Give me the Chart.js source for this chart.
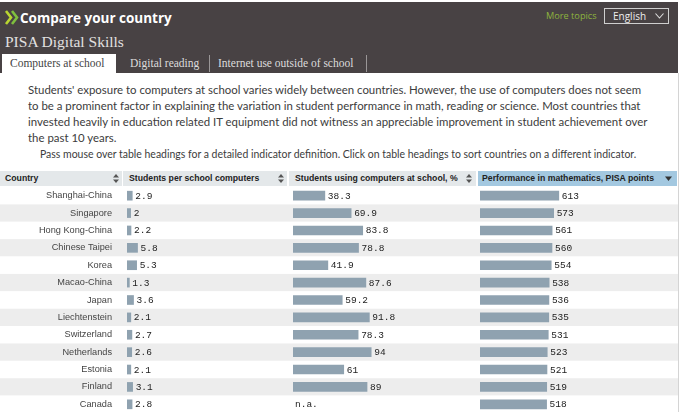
<!DOCTYPE html>
<html><head><meta charset="utf-8">
<script src="https://cdn.jsdelivr.net/npm/chart.js@4/dist/chart.umd.min.js"></script>
<style>
html,body{margin:0;padding:0;background:#fff;}
body{width:680px;height:412px;overflow:hidden;position:relative;font-family:"Liberation Sans",Arial,sans-serif;}
.abs{position:absolute;white-space:nowrap;}
#top{left:0;top:2px;width:678px;height:71px;background:#484244;}
#title{left:20px;top:9px;font:bold 13.5px "Open Sans",sans-serif;color:#fff;}
#sub{left:5px;top:33px;font:15.5px "Liberation Serif",serif;color:#e2e0e0;}
#more{left:546px;top:9px;font:9.2px "Open Sans",sans-serif;color:#8db43e;}
#lang{left:604px;top:8px;width:63px;height:14px;border:1px solid #cfcfcf;}
#lang span{position:absolute;left:8px;top:0px;font:10px "Open Sans",sans-serif;color:#eee;}
.tab{top:57px;font:11.5px "Liberation Serif",serif;color:#dcdcdc;}
#tab1{left:2px;top:54px;width:114px;height:19px;background:#fff;}
#tab1 span{position:absolute;left:8px;top:3px;color:#444;font:11.5px "Liberation Serif",serif;}
.sep{width:1px;height:17px;top:55px;background:#9a9697;}
.para{left:28px;font-family:Lato,sans-serif;color:#3c3c3c;}
.hcell{top:171px;height:15px;background:#e4e8ea;}
.hcell span{position:absolute;top:1px;font:bold 8.7px "Liberation Sans",Arial,sans-serif;color:#222;line-height:13px;}
canvas{position:absolute;top:187px;}
#rborder{left:678px;top:73px;width:1px;height:339px;background:#d4d4d4;}
</style></head>
<body>
<div id="top" class="abs"></div>
<svg class="abs" style="left:4px;top:9px" width="16" height="17" viewBox="0 0 16 17">
<polyline points="2,2 7,8.5 2,15" fill="none" stroke="#b9d531" stroke-width="2.6"/>
<polyline points="8,2 13,8.5 8,15" fill="none" stroke="#7fbf3e" stroke-width="2.6"/>
</svg>
<div id="title" class="abs">Compare your country</div>
<div id="sub" class="abs">PISA Digital Skills</div>
<div id="more" class="abs">More topics</div>
<div id="lang" class="abs"><span>English</span>
<svg style="position:absolute;left:50px;top:4px" width="9" height="6"><polyline points="0.5,0.5 4.5,5 8.5,0.5" fill="none" stroke="#ddd" stroke-width="1.1"/></svg></div>
<div id="tab1" class="abs"><span>Computers at school</span></div>
<div class="abs tab" style="left:130px;">Digital reading</div>
<div class="abs sep" style="left:209px;"></div>
<div class="abs tab" style="left:218px;">Internet use outside of school</div>
<div class="abs sep" style="left:366px;"></div>
<div id="paras"></div>
<div id="hdr"></div>
<div id="rborder" class="abs"></div>
<canvas id="c1" width="287" height="226" style="left:0px"></canvas>
<canvas id="c2" width="189" height="226" style="left:287px"></canvas>
<canvas id="c3" width="202" height="226" style="left:476px"></canvas>
<script>
// ---- data ----
const countries = ["Shanghai-China","Singapore","Hong Kong-China","Chinese Taipei","Korea","Macao-China","Japan","Liechtenstein","Switzerland","Netherlands","Estonia","Finland","Canada"];
const studentsPerComputer = [2.9,2,2.2,5.8,5.3,1.3,3.6,2.1,2.7,2.6,2.1,3.1,2.8];
const studentsUsingComputers = [38.3,69.9,83.8,78.8,41.9,87.6,59.2,91.8,78.3,94,61,89,null];
const mathPerformance = [613,573,561,560,554,538,536,535,531,523,521,519,518];
const columnHeadings = ["Country","Students per school computers","Students using computers at school, %","Performance in mathematics, PISA points"];
const introLines = [
 "Students' exposure to computers at school varies widely between countries. However, the use of computers does not seem",
 "to be a prominent factor in explaining the variation in student performance in math, reading or science. Most countries that",
 "invested heavily in education related IT equipment did not witness an appreciable improvement in student achievement over",
 "the past 10 years."
];
const hintLine = "Pass mouse over table headings for a detailed indicator definition. Click on table headings to sort countries on a different indicator.";

// ---- intro text ----
(function(){
  const p = document.getElementById('paras');
  const cv = document.createElement('canvas').getContext('2d');
  cv.font = '10px Lato';
  const fs = 10 * 615 / cv.measureText(introLines[0]).width;
  const fh = 10 * 598 / cv.measureText(hintLine).width;
  introLines.forEach((t,i)=>{
    const d=document.createElement('div');d.className='abs para';
    d.style.fontSize=fs+'px';d.style.top=(83+i*16)+'px';d.textContent=t;p.appendChild(d);
  });
  const d=document.createElement('div');d.className='abs para';
  d.style.fontSize=fh+'px';d.style.left='40px';d.style.top='148px';d.textContent=hintLine;p.appendChild(d);
})();

// ---- header row ----
(function(){
  const h=document.getElementById('hdr');
  const cells=[[0,122,5,116,false],[123,164,129,281,false],[289,187,295,469,false],[478,199,482,668,true]];
  const sortIcon='<svg width="6" height="9"><polygon points="0,3.5 3,0 6,3.5" fill="#555"/><polygon points="0,5.5 3,9 6,5.5" fill="#555"/></svg>';
  const downIcon='<svg width="7" height="9"><polygon points="0,2.5 7,2.5 3.5,7" fill="#333"/></svg>';
  cells.forEach((c,i)=>{
    const d=document.createElement('div');d.className='abs hcell';
    d.style.left=c[0]+'px';d.style.width=c[1]+'px';
    if(c[4]) d.style.background='#a3c8e0';
    d.innerHTML='<span style="left:'+(c[2]-c[0])+'px">'+columnHeadings[i]+'</span>';
    const ic=document.createElement('div');ic.innerHTML=c[4]?downIcon:sortIcon;
    const s=ic.firstChild;s.style.position='absolute';s.style.left=(c[3]-c[0]-3)+'px';s.style.top='3px';
    d.appendChild(s);
    h.appendChild(d);
  });
})();

// ---- charts ----
const stripes={id:'stripes',beforeDraw(chart){
  const ctx=chart.ctx, ys=chart.scales.y, n=countries.length;
  const rh=chart.chartArea.height/n;
  ctx.save();
  for(let i=0;i<n;i++){
    const c=ys.getPixelForValue(i);
    ctx.fillStyle= i%2 ? '#ededed' : '#ffffff';
    ctx.fillRect(0,c-rh/2,chart.width,rh);
  }
  ctx.restore();
}};
const valueLabels={id:'valueLabels',afterDatasetsDraw(chart){
  const ctx=chart.ctx; const meta=chart.getDatasetMeta(0); const data=chart.data.datasets[0].data;
  ctx.save();ctx.font='9.5px "Liberation Mono", monospace';ctx.fillStyle='#222';ctx.textBaseline='middle';ctx.textAlign='left';
  meta.data.forEach((el,i)=>{
    const y=chart.scales.y.getPixelForValue(i)+0.5;
    if(data[i]===null){ctx.fillText('n.a.',chart.chartArea.left+2,y);}
    else ctx.fillText(String(data[i]),el.x+3,y);
  });
  ctx.restore();
}};
function makeChart(id,values,max,showLabels,padLeft){
  return new Chart(document.getElementById(id),{
    type:'bar',
    data:{labels:countries,datasets:[{data:values,backgroundColor:'#8fa2b0',barThickness:9,borderWidth:0}]},
    options:{
      indexAxis:'y',responsive:false,animation:false,devicePixelRatio:1,
      layout:{padding:{left:padLeft,right:0,top:0,bottom:0}},
      plugins:{legend:{display:false},tooltip:{enabled:false}},
      scales:{
        x:{display:false,min:0,max:max},
        y:{display:showLabels,grid:{display:false,drawTicks:false},border:{display:false},
           ticks:{padding:15,color:'#444',font:{family:'"Liberation Sans", Arial, sans-serif',size:9.2}},
           afterFit(s){ if(showLabels){ s.width=127; s.paddingTop=0; s.paddingBottom=0; } }}
      }
    },
    plugins:[stripes,valueLabels]
  });
}
makeChart('c1',studentsPerComputer,88,true,0);
makeChart('c2',studentsUsingComputers,220,false,6);
makeChart('c3',mathPerformance,1540,false,4);
</script>
</body></html>
